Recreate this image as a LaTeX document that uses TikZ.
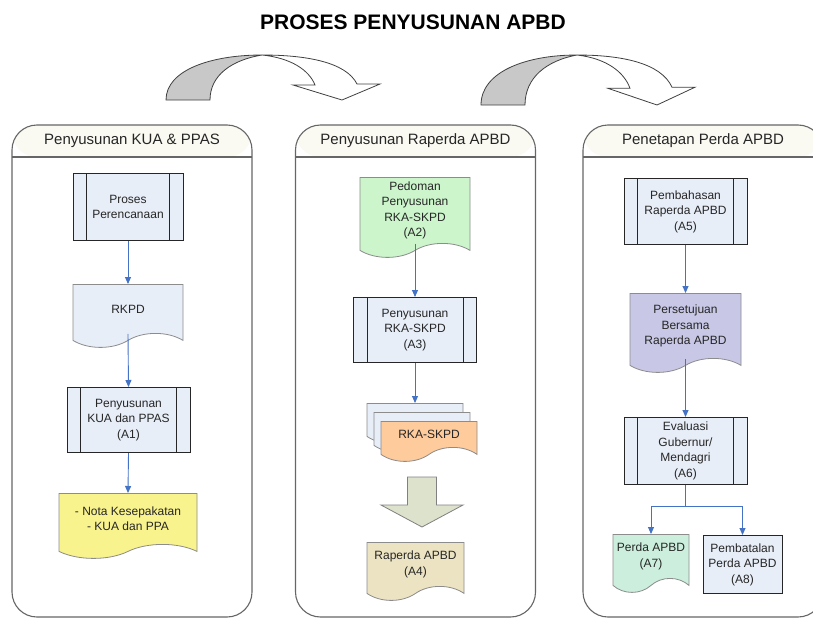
\documentclass[tikz,border=0pt]{standalone}
\usepackage{fontspec}
\setmainfont{Liberation Sans}
\usetikzlibrary{positioning,shapes.symbols,arrows.meta}

\definecolor{procfill}{HTML}{E8EEF8}
\definecolor{flowblue}{HTML}{4472C4}
\definecolor{notafill}{HTML}{F9F38E}
\definecolor{pedfill}{HTML}{CCF5CC}
\definecolor{rkafill}{HTML}{FDCB9C}
\definecolor{blkfill}{HTML}{DDE2CC}
\definecolor{rapfill}{HTML}{ECE3C2}
\definecolor{perfill}{HTML}{C8C8E6}
\definecolor{perdafill}{HTML}{CCEEDD}
\definecolor{headfill}{HTML}{FAFAF2}
\definecolor{bandgray}{HTML}{C8C8C8}
\definecolor{txt}{HTML}{262626}

\tikzset{
  pane/.style={draw=black!60, line width=1.1pt, fill=white, rounded corners=25pt,
    minimum width=240pt, minimum height=492pt, inner sep=0pt,
    path picture={
      \fill[headfill] (path picture bounding box.north west) rectangle ([yshift=-32pt]path picture bounding box.north east);
      \draw[black!60, line width=1.1pt] ([yshift=-32pt]path picture bounding box.north west) -- ([yshift=-32pt]path picture bounding box.north east);}},
  headtxt/.style={font=\fontsize{15}{18}\selectfont, text=txt, inner sep=0pt},
  proc/.style={draw=black!85, line width=1pt, fill=procfill, minimum width=123pt, minimum height=66pt,
    inner sep=1pt, align=center, anchor=north, font=\fontsize{12}{15.5}\selectfont, text=txt,
    path picture={
      \draw[black!85, line width=1pt] ([xshift=13.5pt]path picture bounding box.north west) -- ([xshift=13.5pt]path picture bounding box.south west)
        ([xshift=-13.5pt]path picture bounding box.north east) -- ([xshift=-13.5pt]path picture bounding box.south east);}},
  docu/.style={shape=tape, tape bend top=none, tape bend bottom=in and out, tape bend height=14pt,
    draw=black!45, line width=0.8pt, fill=#1, minimum width=110pt, inner sep=1pt, align=center,
    anchor=north, font=\fontsize{12}{15.5}\selectfont, text=txt},
  box/.style={draw=black!85, line width=1pt, fill=procfill, inner sep=1pt, align=center,
    anchor=north, font=\fontsize{12}{15.5}\selectfont, text=txt},
  flow/.style={draw=flowblue, line width=0.9pt, -{Triangle[width=6pt,length=7pt]}},
  bendarrow/.pic={
    \draw[black!75, line width=0.8pt, fill=bandgray] (0,0) .. controls (0,-30) and (45,-45) .. (96,-45)
      .. controls (66,-40) and (44,-25) .. (44,0) -- cycle;
    \draw[black!75, line width=0.8pt, fill=white] (96,-45) .. controls (140,-45) and (180,-38) .. (191,-16)
      -- (214,-16) -- (176,0) -- (127,-15) -- (149,-15) .. controls (143,-30) and (125,-42) .. (96,-45) -- cycle;}
}

\begin{document}
\begin{tikzpicture}[x=1pt, y=-1pt]
\useasboundingbox (0,0) rectangle (813,618);

\node[font=\bfseries\fontsize{21}{24}\selectfont] (title) at (413,22) {PROSES PENYUSUNAN APBD};

% curved arrows between the stages
\pic at (166,100) {bendarrow};
\pic[yscale=1.111] at (481,105) {bendarrow};

% stages
\node[pane] (p1) at (132,371) {};
\node[pane] (p2) at (415.5,371) {};
\node[pane] (p3) at (703,371) {};
\node[headtxt] (h1) at ([yshift=-16pt]p1.north) {Penyusunan KUA \& PPAS};
\node[headtxt] (h2) at ([yshift=-16pt]p2.north) {Penyusunan Raperda APBD};
\node[headtxt] (h3) at ([yshift=-16pt]p3.north) {Penetapan Perda APBD};

% stage 1
\node[proc, minimum width=110pt, minimum height=67pt] (ren) at (128,173) {Proses\\Perencanaan};
\node[docu=procfill, minimum height=63pt] (rkpd) at (128,284) {RKPD};
\node[proc, minimum height=65pt] (a1) at (128.5,387) {Penyusunan\\KUA dan PPAS\\(A1)};
\node[docu=notafill, minimum width=138pt, minimum height=65pt] (nota) at (128,493) {- Nota Kesepakatan\\- KUA dan PPA};

% stage 2
\node[docu=pedfill, minimum height=80pt] (a2) at (415,177) {Pedoman\\Penyusunan\\RKA-SKPD\\(A2)};
\node[proc, minimum height=65pt] (a3) at (415,297) {Penyusunan\\RKA-SKPD\\(A3)};
\node[docu=procfill, minimum width=96pt, minimum height=40pt] (rkb1) at (415,403) {};
\node[docu=procfill, minimum width=96pt, minimum height=40pt] (rkb2) at (422,412) {};
\node[docu=rkafill, minimum width=96pt, minimum height=40pt] (rka) at (429,421) {RKA-SKPD};
\draw[black!50, line width=0.8pt, fill=blkfill] (407.5,477) -- (436.5,477) -- (436.5,505) -- (463,505)
  -- (422,527) -- (381,505) -- (407.5,505) -- cycle;
\node[docu=rapfill, minimum width=97pt, minimum height=58pt] (a4) at (415.5,542) {Raperda APBD\\(A4)};

% stage 3
\node[proc] (a5) at (685.5,178) {Pembahasan\\Raperda APBD\\(A5)};
\node[docu=perfill, minimum width=111pt, minimum height=79pt] (pers) at (685.5,293) {Persetujuan\\Bersama\\Raperda APBD};
\node[proc, minimum height=67pt] (a6) at (685.5,417) {Evaluasi\\Gubernur/\\Mendagri\\(A6)};
\node[docu=perdafill, minimum width=76pt, minimum height=58pt] (a7) at (651,534) {Perda APBD\\(A7)};
\node[box, minimum width=79pt, minimum height=58pt] (a8) at (742.5,535) {Pembatalan\\Perda APBD\\(A8)};

\draw[flow] (ren.south) -- (rkpd.north);
\draw[flow] (rkpd.south) -- (a1.north);
\draw[flow] (a1.south) -- (nota.north);
\draw[flow] (a2.south) -- (a3.north);
\draw[flow] (a3.south) -- (rkb1.north);
\draw[flow] (a5.south) -- (pers.north);
\draw[flow] (pers.south) -- (a6.north);
\draw[flow] (a6.south) -- ++(0,21) -| (a7.north);
\draw[flow] (a6.south) -- ++(0,21) -| (a8.north);
\end{tikzpicture}
\end{document}
